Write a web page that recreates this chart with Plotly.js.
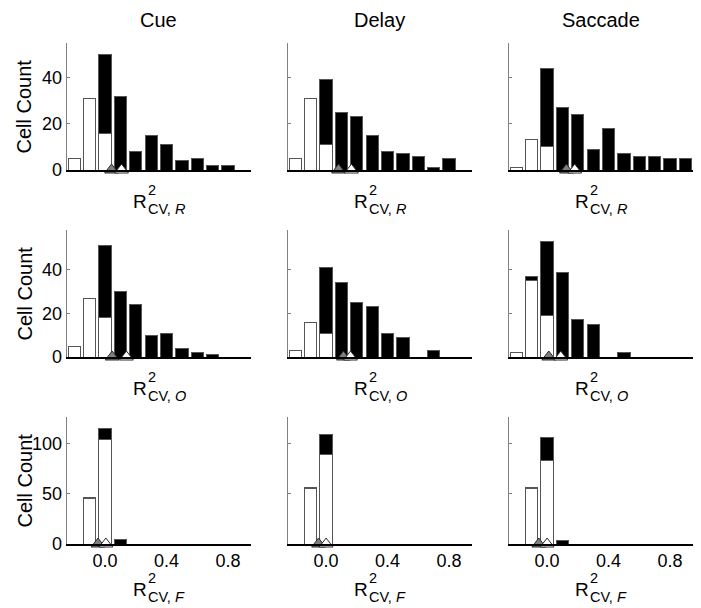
<!DOCTYPE html>
<html><head><meta charset="utf-8">
<script src="https://cdn.plot.ly/plotly-3.0.1.min.js"></script>
<style>html,body{margin:0;padding:0;background:#fff}</style>
</head><body><div id="chart" style="width:701px;height:608px"></div>
<script>
// ---------- data ----------
const binCenters = [-0.2, -0.1, 0.0, 0.1, 0.2, 0.3, 0.4, 0.5, 0.6, 0.7, 0.8, 0.9];
const epochs = ['Cue', 'Delay', 'Saccade'];
const rowLetters = ['R', 'O', 'F'];
const xTickVals = [0, 0.4, 0.8];
const xTickText = ['0.0', '0.4', '0.8'];
const yTickVals = [[0, 20, 40], [0, 20, 40], [0, 50, 100]];

// white = lower (open) part, black = upper (filled) part of each stacked bar
const cueR_white   = [5, 31, 16, 0, 0, 0, 0, 0, 0, 0, 0, 0];
const cueR_black   = [0, 0, 34, 32, 8, 15, 11, 4, 5, 2, 2, 0];
const delayR_white = [5, 31, 11, 0, 0, 0, 0, 0, 0, 0, 0, 0];
const delayR_black = [0, 0, 28, 25, 23, 15, 8, 7, 6, 1, 5, 0];
const saccR_white  = [1, 13, 10, 0, 0, 0, 0, 0, 0, 0, 0, 0];
const saccR_black  = [0, 0, 34, 27, 24, 9, 18, 7, 6, 6, 5, 5];

const cueO_white   = [5, 27, 18, 0, 0, 0, 0, 0, 0, 0, 0, 0];
const cueO_black   = [0, 0, 33, 30, 24, 10, 11, 4, 2, 1, 0, 0];
const delayO_white = [3, 16, 11, 0, 0, 0, 0, 0, 0, 0, 0, 0];
const delayO_black = [0, 0, 30, 34, 25, 23, 11, 9, 0, 3, 0, 0];
const saccO_white  = [2, 35, 19, 0, 0, 0, 0, 0, 0, 0, 0, 0];
const saccO_black  = [0, 2, 34, 39, 17, 15, 0, 2, 0, 0, 0, 0];

const cueF_white   = [0, 45, 104, 0, 0, 0, 0, 0, 0, 0, 0, 0];
const cueF_black   = [0, 1, 11, 4, 0, 0, 0, 0, 0, 0, 0, 0];
const delayF_white = [0, 55, 89, 0, 0, 0, 0, 0, 0, 0, 0, 0];
const delayF_black = [0, 1, 20, 0, 0, 0, 0, 0, 0, 0, 0, 0];
const saccF_white  = [0, 55, 83, 0, 0, 0, 0, 0, 0, 0, 0, 0];
const saccF_black  = [0, 1, 23, 3, 0, 0, 0, 0, 0, 0, 0, 0];

// triangle markers (per epoch: Cue, Delay, Saccade)
const medR_gray  = [0.042, 0.081, 0.126];
const medR_white = [0.107, 0.165, 0.180];
const medO_gray  = [0.046, 0.113, 0.011];
const medO_white = [0.139, 0.159, 0.089];
const medF_gray  = [-0.046, -0.049, -0.054];
const medF_white = [0.005, 0.000, 0.000];

// ---------- build ----------
const whites = [[cueR_white, delayR_white, saccR_white],
                [cueO_white, delayO_white, saccO_white],
                [cueF_white, delayF_white, saccF_white]];
const blacks = [[cueR_black, delayR_black, saccR_black],
                [cueO_black, delayO_black, saccO_black],
                [cueF_black, delayF_black, saccF_black]];
const grays = [medR_gray, medO_gray, medF_gray];
const opens = [medR_white, medO_white, medF_white];

const W = 701, H = 608;
const colLeft = [66.7, 287.7, 508.7];
const colWidth = 184.3;
const rowBase = [170, 357, 544];
const rowHeight = 127;
const FONT = 'Liberation Sans, Arial, Helvetica, sans-serif';

const traces = [];
const layout = {
  width: W, height: H,
  margin: {l: 0, r: 0, t: 0, b: 0},
  paper_bgcolor: '#fff', plot_bgcolor: 'rgba(0,0,0,0)',
  showlegend: false,
  barmode: 'stack',
  font: {family: FONT, color: '#000', size: 18},
  annotations: []
};

function px(x) { return x / W; }
function py(y) { return 1 - y / H; }

for (let r = 0; r < 3; r++) {
  let rowMax = 0;
  for (let c = 0; c < 3; c++) {
    whites[r][c].forEach((v, i) => { rowMax = Math.max(rowMax, v + blacks[r][c][i]); });
  }
  const yMax = rowMax * 1.1;
  for (let c = 0; c < 3; c++) {
    const k = r * 3 + c + 1;
    const xa = k === 1 ? 'x' : 'x' + k;
    const ya = k === 1 ? 'y' : 'y' + k;
    traces.push({
      type: 'bar', x: binCenters, y: whites[r][c], xaxis: xa, yaxis: ya, width: 0.08,
      marker: {color: '#ffffff', line: {color: '#555555', width: 1}}, hoverinfo: 'skip'
    });
    traces.push({
      type: 'bar', x: binCenters, y: blacks[r][c], xaxis: xa, yaxis: ya, width: 0.08,
      marker: {color: '#000000', line: {color: '#555555', width: 1}}, hoverinfo: 'skip'
    });
    traces.push({
      type: 'scatter', mode: 'markers', x: [grays[r][c]], y: [0], xaxis: xa, yaxis: ya,
      cliponaxis: false,
      marker: {symbol: 'triangle-up', size: 12, color: '#7f7f7f', line: {color: '#2a2a2a', width: 1}},
      hoverinfo: 'skip'
    });
    traces.push({
      type: 'scatter', mode: 'markers', x: [opens[r][c]], y: [0], xaxis: xa, yaxis: ya,
      cliponaxis: false,
      marker: {symbol: 'triangle-up', size: 12, color: '#ffffff', line: {color: '#2a2a2a', width: 1}},
      hoverinfo: 'skip'
    });

    const x0 = colLeft[c], x1 = colLeft[c] + colWidth;
    const yb = rowBase[r], yt = rowBase[r] - rowHeight;
    layout[k === 1 ? 'xaxis' : 'xaxis' + k] = {
      domain: [px(x0), px(x1)], range: [-0.25, 0.95], anchor: ya,
      showline: true, linecolor: '#000', linewidth: 1.5,
      ticks: '', showgrid: false, zeroline: false,
      showticklabels: r === 2, tickmode: 'array', tickvals: xTickVals, ticktext: xTickText,
      tickfont: {size: 18, family: FONT, color: '#000'}, fixedrange: true
    };
    layout[k === 1 ? 'yaxis' : 'yaxis' + k] = {
      domain: [py(yb), py(yt)], range: [0, yMax], anchor: xa,
      showline: true, linecolor: '#808080', linewidth: 1,
      ticks: 'inside', ticklen: 3, tickcolor: '#808080', tickwidth: 1,
      showgrid: false, zeroline: false,
      showticklabels: c === 0, tickmode: 'array', tickvals: yTickVals[r],
      tickfont: {size: 18, family: FONT, color: '#000'}, fixedrange: true
    };

    // x-axis title: R with stacked superscript 2 and subscript CV,<letter>
    const cx = x0 + colWidth / 2;
    const rc = yb + (r === 2 ? 45 : 31);
    layout.annotations.push({
      xref: 'paper', yref: 'paper', x: px(cx - 28), y: py(rc), xanchor: 'left', yanchor: 'middle',
      text: 'R', showarrow: false, font: {size: 19, family: FONT, color: '#000'}
    });
    layout.annotations.push({
      xref: 'paper', yref: 'paper', x: px(cx - 12), y: py(rc - 1.5), xanchor: 'left', yanchor: 'middle',
      align: 'left', borderpad: 0,
      text: '2<br>CV, <i>' + rowLetters[r] + '</i>', showarrow: false,
      font: {size: 14.5, family: FONT, color: '#000'}
    });

    if (r === 0) {
      layout.annotations.push({
        xref: 'paper', yref: 'paper', x: px(cx), y: py(20.5), xanchor: 'center', yanchor: 'middle',
        text: epochs[c], showarrow: false, font: {size: 20, family: FONT, color: '#000'}
      });
    }
    if (c === 0) {
      layout.annotations.push({
        xref: 'paper', yref: 'paper', x: px(24), y: py(yb - rowHeight / 2), xanchor: 'center', yanchor: 'middle',
        text: 'Cell Count', textangle: -90, showarrow: false, font: {size: 20, family: FONT, color: '#000'}
      });
    }
  }
}

Plotly.newPlot('chart', traces, layout, {staticPlot: true, displayModeBar: false});
</script>
</body></html>
